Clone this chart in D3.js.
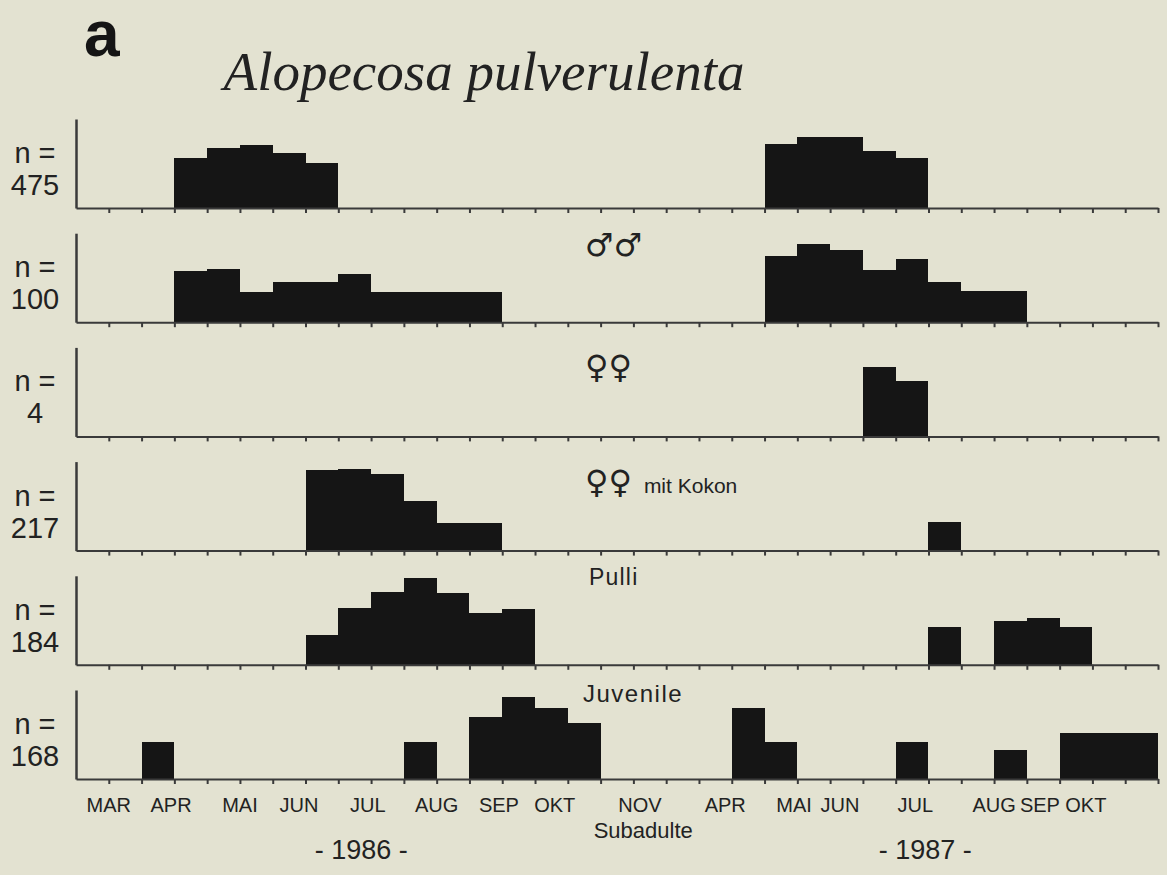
<!DOCTYPE html>
<html><head><meta charset="utf-8">
<script src="https://cdn.jsdelivr.net/npm/d3@7/dist/d3.min.js"></script>
<style>
html,body{margin:0;padding:0;background:#e3e2d1;}
svg{display:block;}
</style></head>
<body>
<svg id="chart" width="1167" height="875"></svg>
<script>
// ---- data ----
// 33 half-month sampling periods (index = period number on the x axis)
const periods = d3.range(33);
const panelNames = ["Adulte", "♂♂", "♀♀", "♀♀ mit Kokon", "Pulli", "Juvenile"];
const panelN = ["475", "100", "4", "217", "184", "168"];
// relative abundance per period (sparse: [period, value])
const adultsAll   = [[3,50],[4,60],[5,63],[6,55],[7,45],[21,64],[22,71],[23,71],[24,57],[25,50]];
const males       = [[3,51],[4,53],[5,30],[6,40],[7,40],[8,48],[9,30],[10,30],[11,30],[12,30],
                     [21,66],[22,78],[23,72],[24,52],[25,63],[26,40],[27,31],[28,31]];
const females     = [[24,69],[25,55]];
const femCocoon   = [[7,81],[8,82],[9,77],[10,50],[11,28],[12,28],[26,29]];
const pulli       = [[7,30],[8,57],[9,73],[10,87],[11,72],[12,52],[13,56],[26,38],[28,44],[29,47],[30,38]];
const juveniles   = [[2,37],[10,37],[12,62],[13,82],[14,71],[15,56],[20,71],[21,37],[25,37],[28,29],[30,46],[31,46],[32,46]];
const seriesList = [adultsAll, males, females, femCocoon, pulli, juveniles];
// month labels with their position in period units
const monthLabels = ["MAR","APR","MAI","JUN","JUL","AUG","SEP","OKT","NOV","APR","MAI","JUN","JUL","AUG","SEP","OKT"];
const monthPos    = [1.0, 2.9, 5.0, 6.8, 8.9, 11.0, 12.9, 14.6, 17.2, 19.8, 21.9, 23.3, 25.6, 28.0, 29.4, 30.8];
const yearLabels = ["- 1986 -", "- 1987 -"];
const yearPos    = [8.7, 25.9];
const title = "Alopecosa pulverulenta";

// ---- layout ----
const svg = d3.select("#chart");
const left = 76, right = 1158;
const firstBase = 208, step = 114.2, axisH = 89;
const ink = "#151515", lineCol = "#3a3a3a", txt = "#222";
const sans = "Liberation Sans, Arial, sans-serif";

const x = d3.scaleLinear().domain([0, periods.length]).range([left, right]);
const y = d3.scaleLinear().domain([0, 100]).range([0, 100]);

svg.append("rect").attr("width",1167).attr("height",875).attr("fill","#e3e2d1");

svg.append("text").attr("x", 84).attr("y", 56)
  .attr("font-family", sans).attr("font-weight","bold")
  .attr("font-size", 64).attr("fill", ink).text("a");

svg.append("text").attr("x", 484).attr("y", 90).attr("text-anchor","middle")
  .attr("font-family","Liberation Serif, Times New Roman, serif").attr("font-style","italic")
  .attr("font-size", 55).attr("fill", txt).text(title);

seriesList.forEach((series, i) => {
  const base = firstBase + i * step;
  const g = svg.append("g");
  // bars
  g.selectAll("rect").data(series).join("rect")
    .attr("x", d => x(d[0]))
    .attr("width", d => x(d[0] + 1) - x(d[0]))
    .attr("y", d => base - y(d[1]))
    .attr("height", d => y(d[1]))
    .attr("fill", ink)
    .attr("shape-rendering","crispEdges");
  // x axis
  const xa = g.append("g").attr("transform", `translate(0,${base})`)
    .call(d3.axisBottom(x).tickValues(d3.range(1, periods.length + 1)).tickSize(5).tickSizeOuter(0).tickFormat(""));
  xa.selectAll("path,line").attr("stroke", lineCol).attr("stroke-width", 2);
  // y axis (line only)
  const ys = d3.scaleLinear().domain([0,1]).range([base, base - axisH]);
  const ya = g.append("g").attr("transform", `translate(${left},0)`)
    .call(d3.axisLeft(ys).tickValues([]).tickSizeOuter(0));
  ya.selectAll("path").attr("stroke", lineCol).attr("stroke-width", 2.5);
  // n labels
  g.append("text").attr("x", 35).attr("y", base - 45).attr("text-anchor","middle")
    .attr("font-family", sans).attr("font-size", 29).attr("fill", txt).text("n =");
  g.append("text").attr("x", 35).attr("y", base - 13).attr("text-anchor","middle")
    .attr("font-family", sans).attr("font-size", 29).attr("fill", txt).text(panelN[i]);
});

// panel labels
function symLabel(i, sym, extra, yOff) {
  const base = firstBase + i * step;
  const t = svg.append("text").attr("x", 585).attr("y", base - yOff)
    .attr("font-family", sans).attr("fill", txt);
  t.append("tspan").attr("font-family","DejaVu Sans, sans-serif").attr("font-size", 32).text(sym);
  if (extra) t.append("tspan").attr("font-size", 21).attr("dx", 12).text(extra);
}
symLabel(1, panelNames[1].slice(0,2), "", 66);
symLabel(2, panelNames[2].slice(0,2), "", 58);
symLabel(3, panelNames[3].slice(0,2), panelNames[3].slice(3), 58);
svg.append("text").attr("x", 589).attr("y", firstBase + 4*step - 80)
  .attr("font-family", sans).attr("font-size", 23).attr("letter-spacing", 1.2)
  .attr("fill", txt).text(panelNames[4]);
svg.append("text").attr("x", 583).attr("y", firstBase + 5*step - 77)
  .attr("font-family", sans).attr("font-size", 24).attr("letter-spacing", 1.5)
  .attr("fill", txt).text(panelNames[5]);

// month labels
svg.append("g").selectAll("text").data(monthLabels).join("text")
  .attr("x", (d, j) => x(monthPos[j])).attr("y", 812).attr("text-anchor","middle")
  .attr("font-family", sans).attr("font-size", 20).attr("fill", txt)
  .text(d => d);

svg.append("text").attr("x", x(17.3)).attr("y", 838).attr("text-anchor","middle")
  .attr("font-family", sans).attr("font-size", 22).attr("fill", txt).text("Subadulte");

svg.append("g").selectAll("text").data(yearLabels).join("text")
  .attr("x", (d, j) => x(yearPos[j])).attr("y", 859).attr("text-anchor","middle")
  .attr("font-family", sans).attr("font-size", 27).attr("fill", txt)
  .text(d => d);
</script>
</body></html>
